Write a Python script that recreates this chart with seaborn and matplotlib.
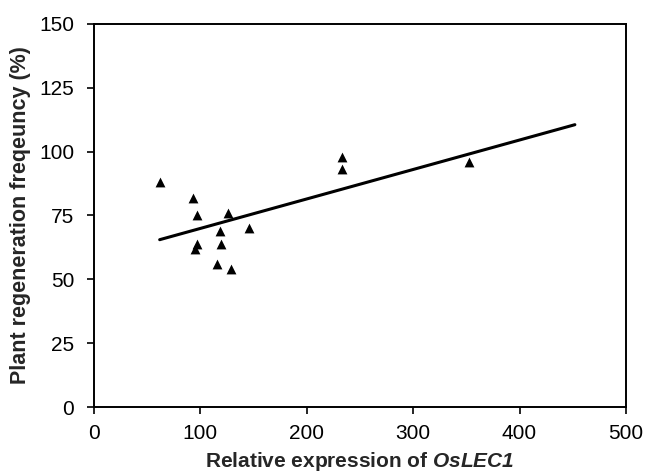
import numpy as np
import pandas as pd
import matplotlib
matplotlib.use("Agg")
import matplotlib.pyplot as plt
import seaborn as sns

# values
expression = [62, 93, 97, 126, 119, 146, 97, 95, 120, 116, 129, 233, 233, 353]
regeneration = [88, 82, 75, 76, 69, 70, 64, 62, 64, 56, 54, 98, 93, 96]

# trend line end points (Excel-style linear trendline, extended forward)
trend_x = [62, 452]
trend_y = [65.5, 110.5]

x_ticks = [0, 100, 200, 300, 400, 500]
y_ticks = [0, 25, 50, 75, 100, 125, 150]

df = pd.DataFrame({'expr': expression, 'regen': regeneration})
trend = pd.DataFrame({'x': trend_x, 'y': trend_y})

sns.set_style('white')
plt.rcParams['font.family'] = ['Liberation Sans', 'DejaVu Sans']
plt.rcParams['mathtext.fontset'] = 'custom'
plt.rcParams['mathtext.bfit'] = 'Liberation Sans:italic:bold'

fig = plt.figure(figsize=(6.46, 4.75), dpi=100)
ax = fig.add_axes([0.145, 0.143, 0.824, 0.807])

sns.lineplot(data=trend, x='x', y='y', color='black', linewidth=2.2, ax=ax)
sns.scatterplot(data=df, x='expr', y='regen', marker='^', s=50, color='black',
                edgecolor='black', linewidth=0, ax=ax, zorder=3)

ax.set_xlim(0, 500)
ax.set_ylim(0, 150)
ax.set_xticks(x_ticks)
ax.set_yticks(y_ticks)
ax.tick_params(axis='both', direction='out', length=5, width=1.2, labelsize=15,
               colors='black', bottom=True, left=True)
ax.tick_params(axis='x', pad=7)
ax.tick_params(axis='y', pad=9)
for sp in ax.spines.values():
    sp.set_color('black')
    sp.set_linewidth(1.4)

ax.set_xlabel(r'Relative expression of $\mathbfit{OsLEC1}$', fontsize=15,
              fontweight='bold', labelpad=5)
ax.set_ylabel('Plant regeneration freqeuncy (%)', fontsize=15.5,
              fontweight='bold', labelpad=6)

fig.savefig('out.png', dpi=100)
